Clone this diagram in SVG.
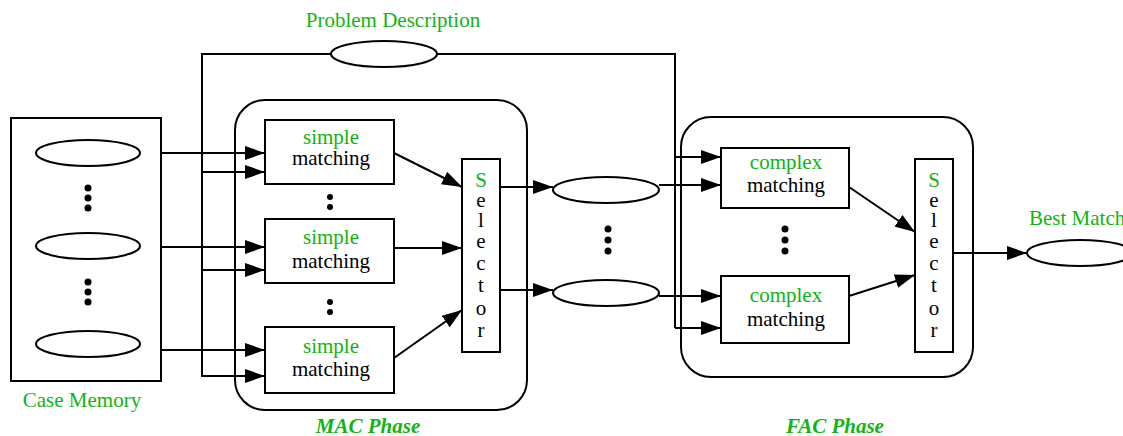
<svg xmlns="http://www.w3.org/2000/svg" width="1123" height="436" viewBox="0 0 1123 436">
  <style>
    .ln { fill: none; stroke: #000; stroke-width: 2; }
    .arr { fill: none; stroke: #000; stroke-width: 2; marker-end: url(#ah); }
    .box { fill: #fff; stroke: #000; stroke-width: 2; }
    .ell { fill: #fff; stroke: #000; stroke-width: 2; }
    text { font-family: 'Liberation Serif', 'Times New Roman', 'DejaVu Serif', serif; font-size: 21px; text-anchor: middle; }
    .g { fill: #12b312; }
    .k { fill: #000; }
    .ph { font-weight: bold; font-style: italic; }
    .dot { fill: #000; }
  </style>
  <defs>
    <marker id="ah" markerUnits="userSpaceOnUse" markerWidth="22" markerHeight="14" refX="20" refY="7" orient="auto">
      <path d="M0,0 L20,7 L0,14 Z" fill="#000"/>
    </marker>
  </defs>
  <rect width="1123" height="436" fill="#fff"/>

  <!-- phase containers -->
  <g id="mac-phase">
    <rect class="box" x="235" y="100" width="292" height="310" rx="30"/>
    <text class="g ph" x="368" y="433">MAC Phase</text>
  </g>
  <g id="fac-phase">
    <rect class="box" x="681" y="117" width="292" height="260" rx="30"/>
    <text class="g ph" x="835" y="433">FAC Phase</text>
  </g>

  <!-- connectors -->
  <g id="connectors">
    <!-- problem description distribution -->
    <path class="ln" d="M331,54 H202 V377"/>
    <path class="ln" d="M437,54 H675 V328"/>
    <path class="arr" d="M202,172 H265"/>
    <path class="arr" d="M202,270 H265"/>
    <path class="arr" d="M202,376 H265"/>
    <path class="arr" d="M675,157 H721"/>
    <path class="arr" d="M675,328 H721"/>
    <!-- cases into simple matchers -->
    <path class="arr" d="M140,153 H265"/>
    <path class="arr" d="M140,247 H265"/>
    <path class="arr" d="M136,350 H265"/>
    <!-- simple matchers into selector -->
    <path class="arr" d="M394,153 L462,187"/>
    <path class="arr" d="M394,248 H462"/>
    <path class="arr" d="M394,358 L462,310"/>
    <!-- selector outputs -->
    <path class="arr" d="M500,187 H553"/>
    <path class="arr" d="M500,290 H553"/>
    <!-- candidates into complex matchers -->
    <path class="arr" d="M659,185 H721"/>
    <path class="arr" d="M659,296 H721"/>
    <!-- complex matchers into selector -->
    <path class="arr" d="M849,187 L915,232"/>
    <path class="arr" d="M849,296 L915,275"/>
    <path class="arr" d="M953,253 H1027"/>
  </g>

  <g id="case-memory">
    <rect class="box" x="11" y="118" width="150" height="263"/>
    <ellipse class="ell" cx="88" cy="153" rx="52" ry="13"/>
    <ellipse class="ell" cx="88" cy="246" rx="52" ry="13"/>
    <ellipse class="ell" cx="88" cy="344" rx="52" ry="13"/>
    <circle class="dot" cx="88" cy="188" r="3.5"/>
    <circle class="dot" cx="88" cy="198" r="3.5"/>
    <circle class="dot" cx="88" cy="208" r="3.5"/>
    <circle class="dot" cx="88" cy="282" r="3.5"/>
    <circle class="dot" cx="88" cy="292" r="3.5"/>
    <circle class="dot" cx="88" cy="302" r="3.5"/>
    <text class="g" x="82" y="407">Case Memory</text>
  </g>

  <g id="problem-description">
    <ellipse class="ell" cx="384" cy="54" rx="53" ry="13"/>
    <text class="g" x="393" y="27">Problem Description</text>
  </g>

  <g id="simple-1">
    <rect class="box" x="265" y="120" width="129" height="64"/>
    <text class="g" x="331" y="144">simple</text>
    <text class="k" x="331" y="165">matching</text>
  </g>
  <g id="simple-2">
    <rect class="box" x="265" y="219" width="129" height="64"/>
    <text class="g" x="331" y="244">simple</text>
    <text class="k" x="331" y="268">matching</text>
  </g>
  <g id="simple-3">
    <rect class="box" x="265" y="327" width="129" height="66"/>
    <text class="g" x="331" y="353">simple</text>
    <text class="k" x="331" y="376">matching</text>
  </g>
  <g id="mac-dots">
    <circle class="dot" cx="330" cy="197" r="3"/>
    <circle class="dot" cx="330" cy="207" r="3"/>
    <circle class="dot" cx="330" cy="302" r="3"/>
    <circle class="dot" cx="330" cy="312" r="3"/>
  </g>

  <!-- vertical "Selector" label, one letter per line -->
  <g id="mac-selector">
    <rect class="box" x="462" y="159" width="38" height="193"/>
    <text class="k" x="481" y="187"><tspan class="g" x="481" y="187">S</tspan><tspan x="481" y="207">e</tspan><tspan x="481" y="227">l</tspan><tspan x="481" y="248">e</tspan><tspan x="481" y="270">c</tspan><tspan x="481" y="292">t</tspan><tspan x="481" y="315">o</tspan><tspan x="481" y="337">r</tspan></text>
  </g>

  <g id="candidate-1">
    <ellipse class="ell" cx="606" cy="190" rx="53" ry="13"/>
  </g>
  <g id="candidate-2">
    <ellipse class="ell" cx="606" cy="293" rx="53" ry="13"/>
  </g>
  <g id="candidate-dots">
    <circle class="dot" cx="608" cy="229" r="3.5"/>
    <circle class="dot" cx="608" cy="240" r="3.5"/>
    <circle class="dot" cx="608" cy="251" r="3.5"/>
  </g>

  <g id="complex-1">
    <rect class="box" x="721" y="148" width="128" height="60"/>
    <text class="g" x="786" y="169">complex</text>
    <text class="k" x="786" y="192">matching</text>
  </g>
  <g id="complex-2">
    <rect class="box" x="721" y="276" width="128" height="67"/>
    <text class="g" x="786" y="302">complex</text>
    <text class="k" x="786" y="326">matching</text>
  </g>
  <g id="fac-dots">
    <circle class="dot" cx="785" cy="229" r="3.5"/>
    <circle class="dot" cx="785" cy="240" r="3.5"/>
    <circle class="dot" cx="785" cy="251" r="3.5"/>
  </g>

  <g id="fac-selector">
    <rect class="box" x="915" y="159" width="38" height="193"/>
    <text class="k" x="934" y="187"><tspan class="g" x="934" y="187">S</tspan><tspan x="934" y="207">e</tspan><tspan x="934" y="227">l</tspan><tspan x="934" y="248">e</tspan><tspan x="934" y="270">c</tspan><tspan x="934" y="292">t</tspan><tspan x="934" y="315">o</tspan><tspan x="934" y="337">r</tspan></text>
  </g>

  <g id="best-match">
    <ellipse class="ell" cx="1080" cy="253" rx="53" ry="13"/>
    <text class="g" x="1029" y="225" style="text-anchor:start">Best Match</text>
  </g>
</svg>
